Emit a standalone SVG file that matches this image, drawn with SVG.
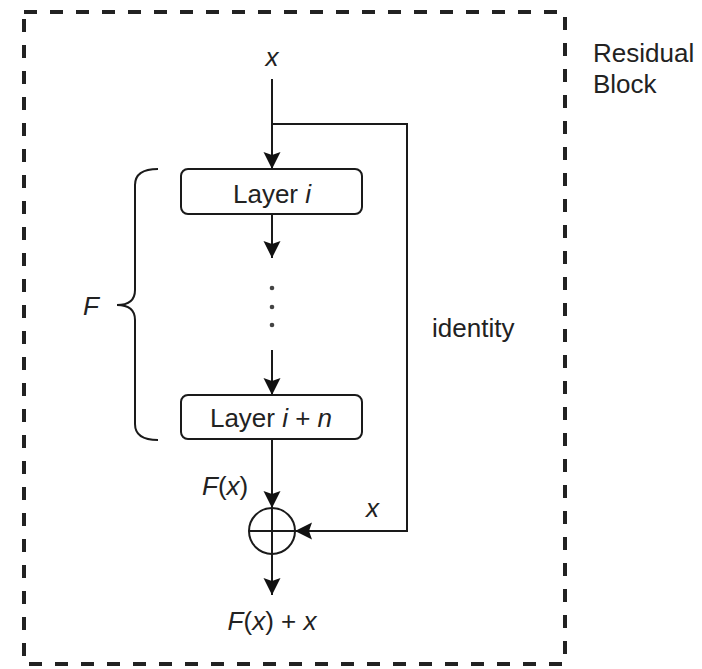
<svg xmlns="http://www.w3.org/2000/svg" width="702" height="669" viewBox="0 0 702 669">
<style>
text{font-family:"Liberation Sans",Arial,sans-serif;font-size:26px;fill:#222}
.c{text-anchor:middle}
.i{font-style:italic}
.ln{fill:none;stroke:#1a1a1a;stroke-width:2}
.box{fill:#fff;stroke:#1a1a1a;stroke-width:2}
</style>
<defs>
<marker id="ah" markerWidth="18" markerHeight="18" refX="17" refY="8.5" orient="auto" markerUnits="userSpaceOnUse">
<path d="M0,0 L17,8.5 L0,17 L3,8.5 Z" fill="#111"/>
</marker>
</defs>
<g id="residual-block">
<rect x="24" y="12" width="541" height="652" fill="none" stroke="#222" stroke-width="4" stroke-dasharray="13 13"/>
<text x="593" y="62">Residual</text>
<text x="593" y="93">Block</text>
</g>
<g id="connectors">
<line class="ln" x1="272" y1="79" x2="272" y2="169" marker-end="url(#ah)"/>
<polyline class="ln" points="272,124 407,124 407,531 295,531" marker-end="url(#ah)"/>
<line class="ln" x1="272" y1="214" x2="272" y2="258" marker-end="url(#ah)"/>
<line class="ln" x1="272" y1="350" x2="272" y2="395" marker-end="url(#ah)"/>
<line class="ln" x1="272" y1="439" x2="272" y2="508" marker-end="url(#ah)"/>
<line class="ln" x1="272" y1="554" x2="272" y2="595" marker-end="url(#ah)"/>
<path class="ln" d="M158,169 Q135,169 135,185 L135,290 Q135,305 117,305 Q135,305 135,320 L135,424 Q135,440 158,440"/>
</g>
<g id="input-x"><text class="c i" x="272" y="66">x</text></g>
<g id="layer-i">
<rect class="box" x="181" y="169" width="181" height="45" rx="7"/>
<text class="c" x="272" y="203">Layer <tspan class="i">i</tspan></text>
</g>
<g id="dots" fill="#444">
<circle cx="272" cy="288" r="2.3"/>
<circle cx="272" cy="307" r="2.3"/>
<circle cx="272" cy="325" r="2.3"/>
</g>
<g id="layer-i-n">
<rect class="box" x="181" y="395" width="181" height="44" rx="7"/>
<text class="c" x="271" y="427">Layer <tspan class="i">i</tspan> + <tspan class="i">n</tspan></text>
</g>
<g id="F-label"><text class="i" x="83" y="315">F</text></g>
<g id="identity-label"><text x="432" y="337">identity</text></g>
<g id="Fx-label"><text x="202" y="495"><tspan class="i">F</tspan>(<tspan class="i">x</tspan>)</text></g>
<g id="x-label"><text class="i" x="366" y="517">x</text></g>
<g id="sum">
<circle cx="272" cy="531" r="23" fill="#fff" stroke="#1a1a1a" stroke-width="2"/>
<line class="ln" x1="249" y1="531" x2="295" y2="531"/>
<line class="ln" x1="272" y1="508" x2="272" y2="554"/>
</g>
<g id="output-label"><text class="c" x="272" y="630"><tspan class="i">F</tspan>(<tspan class="i">x</tspan>) + <tspan class="i">x</tspan></text></g>
</svg>
